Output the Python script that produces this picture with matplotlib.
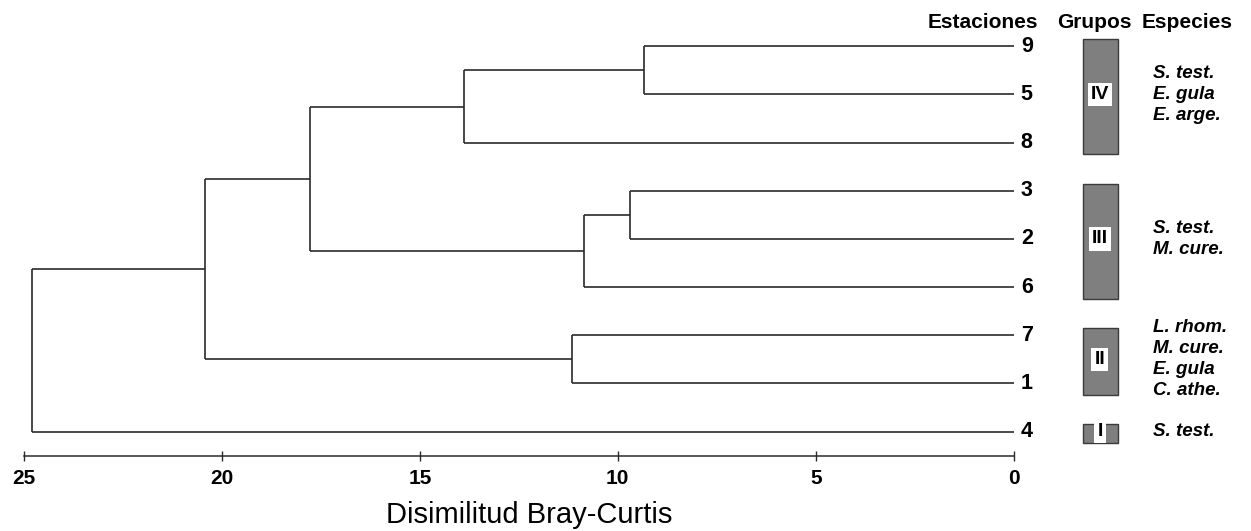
import matplotlib
matplotlib.use("Agg")
import matplotlib.pyplot as plt
from matplotlib.patches import Rectangle

plt.rcParams['font.family'] = ['Liberation Sans', 'DejaVu Sans']

# estaciones, de arriba a abajo
leaf_order = ['9', '5', '8', '3', '2', '6', '7', '1', '4']

# uniones del dendrograma: (hijo a, hijo b, disimilitud, nombre del nodo)
merges = [
    ('9', '5', 9.33, 'A'),
    ('A', '8', 13.88, 'B'),
    ('3', '2', 9.69, 'C'),
    ('C', '6', 10.85, 'D'),
    ('B', 'D', 17.77, 'E'),
    ('7', '1', 11.15, 'F'),
    ('E', 'F', 20.43, 'G'),
    ('G', '4', 24.81, 'H'),
]

groups = ['IV', 'III', 'II', 'I']
group_members = [['9', '5', '8'], ['3', '2', '6'], ['7', '1'], ['4']]
group_species = [
    ['S. test.', 'E. gula', 'E. arge.'],
    ['S. test.', 'M. cure.'],
    ['L. rhom.', 'M. cure.', 'E. gula', 'C. athe.'],
    ['S. test.'],
]

x_ticks = [25, 20, 15, 10, 5, 0]

fig = plt.figure(figsize=(12.51, 5.31), dpi=100)
ax = fig.add_axes([0.01918, 0.1418, 0.7911, 0.8017])

n = len(leaf_order)
ypos = {lab: n - i for i, lab in enumerate(leaf_order)}
height = {lab: 0.0 for lab in leaf_order}

line_kw = dict(color='#2a2a2a', lw=1.2, solid_capstyle='butt')
for a, b, h, name in merges:
    for child in (a, b):
        ax.plot([height[child], h], [ypos[child], ypos[child]], **line_kw)
    ax.plot([h, h], [ypos[a], ypos[b]], **line_kw)
    ypos[name] = (ypos[a] + ypos[b]) / 2
    height[name] = h

# etiquetas de estaciones
for lab in leaf_order:
    ax.text(-0.18, ypos[lab], lab, ha='left', va='center',
            fontsize=15.5, fontweight='bold')

# cabeceras
for x, txt in [(0.775, 'Estaciones'), (-2.036, 'Grupos'), (-4.37, 'Especies')]:
    ax.text(x, 9.383, txt, ha='center', va='baseline',
            fontsize=15, fontweight='bold')

# cajas de grupos y especies
for g, members, spp in zip(groups, group_members, group_species):
    ys = [ypos[m] for m in members]
    top, bottom = max(ys) + 0.15, min(ys) - 0.24
    ax.add_patch(Rectangle((-2.634, bottom), 0.891, top - bottom,
                           facecolor='#7f7f7f', edgecolor='#3a3a3a',
                           lw=1.0, clip_on=False))
    yc = sum(ys) / len(ys)
    ax.text(-2.18, yc, g, ha='center', va='center', fontsize=14,
            fontweight='bold',
            bbox=dict(facecolor='white', edgecolor='none', pad=2.3))
    step = 0.436
    y0 = yc + step * (len(spp) - 1) / 2
    for k, sp in enumerate(spp):
        ax.text(-3.52, y0 - k * step, sp, ha='left', va='center',
                fontsize=13.5, fontweight='bold', style='italic')

ax.set_xlim(25, 0)
ax.set_ylim(0.5, 9.339)
ax.set_xticks(x_ticks)
ax.set_xticklabels([str(t) for t in x_ticks], fontsize=15, fontweight='bold')
ax.set_yticks([])
for side in ('top', 'right', 'left'):
    ax.spines[side].set_visible(False)
ax.spines['bottom'].set_linewidth(1.1)
ax.spines['bottom'].set_color('#2a2a2a')
ax.tick_params(axis='x', direction='inout', length=6.5, width=1.0,
               color='#2a2a2a', pad=6)
ax.set_xlabel('Disimilitud Bray-Curtis', fontsize=21)
ax.xaxis.set_label_coords(0.51, -0.157)
ax.xaxis.label.set_va('baseline')

fig.savefig('out.png', dpi=100)
